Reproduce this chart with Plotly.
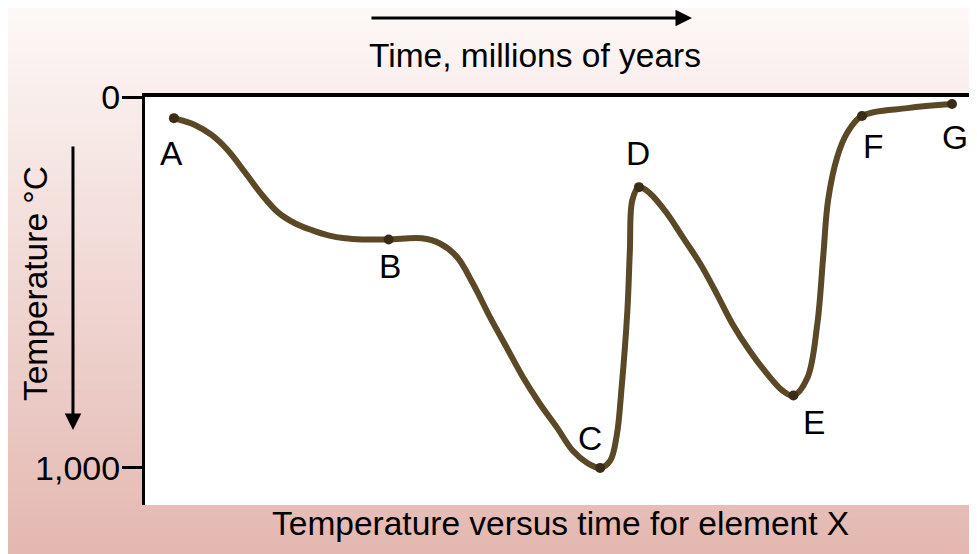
import plotly.graph_objects as go

# Curve (time in arbitrary units 0-100, temperature in °C, axis inverted)
curve_time = [3.5, 6.1, 8.1, 10.0, 12.1, 14.2, 16.1, 18.2, 20.2, 22.2, 24.2, 26.3, 29.5,
              33.5, 35.7, 37.8, 39.7, 41.8, 43.8, 45.8, 47.8, 49.9, 51.8, 53.5, 55.1,
              56.3, 57.1, 57.7, 58.4, 58.7, 59.0, 59.8,
              61.1, 63.2, 65.1, 67.2, 69.2, 71.1, 73.2, 75.3, 77.2, 78.5,
              80.2, 81.4, 82.1, 82.7, 83.8, 85.0, 86.8, 92.3, 97.7]
curve_temp = [57, 76, 103, 143, 203, 265, 311, 341, 359, 373, 381, 384, 384,
              381, 395, 432, 503, 595, 676, 757, 827, 892, 954, 986, 1000,
              981, 914, 784, 576, 414, 278, 243,
              259, 314, 378, 449, 530, 611, 684, 746, 792, 805,
              757, 611, 432, 278, 162, 97, 51, 30, 19]

point_labels = ["A", "B", "C", "D", "E", "F", "G"]
point_time = [3.5, 29.5, 55.1, 59.8, 78.5, 86.8, 97.7]
point_temp = [57, 384, 1000, 243, 805, 51, 19]

y_tick_vals = [0, 1000]
y_tick_text = ["0", "1,000"]

title_top = "Time, millions of years"
title_bottom = "Temperature versus time for element X"
title_left = "Temperature °C"

FONT = "Liberation Sans, Arial, Helvetica, sans-serif"
FS = 33.5

fig = go.Figure()
fig.add_trace(go.Scatter(
    x=curve_time, y=curve_temp, mode="lines",
    line=dict(color="#5a4826", width=6, shape="spline", smoothing=1.0),
    hoverinfo="skip", showlegend=False))
fig.add_trace(go.Scatter(
    x=point_time, y=point_temp, mode="markers",
    marker=dict(color="#3a2d17", size=10),
    showlegend=False))

# label offsets (pixels) relative to each point
label_shift = {"A": (-2, -35), "B": (1, -27), "C": (-10, 29), "D": (-1, 34),
               "E": (21, -27), "F": (11, -31), "G": (3, -33)}
annotations = []
for lab, t, v in zip(point_labels, point_time, point_temp):
    xs, ys = label_shift[lab]
    annotations.append(dict(x=t, y=v, xref="x", yref="y", text=lab, showarrow=False,
                            xshift=xs, yshift=ys, font=dict(size=FS, color="black", family=FONT)))

annotations += [
    dict(x=0.4722, y=1.1029, xref="paper", yref="paper", text=title_top, showarrow=False,
         xanchor="center", yanchor="middle", font=dict(size=FS, color="black", family=FONT)),
    dict(x=0.503, y=-0.046, xref="paper", yref="paper", text=title_bottom, showarrow=False,
         xanchor="center", yanchor="middle", font=dict(size=FS, color="black", family=FONT)),
    dict(x=-0.1332, y=0.544, xref="paper", yref="paper", text=title_left, showarrow=False,
         textangle=-90, xanchor="center", yanchor="middle",
         font=dict(size=FS, color="black", family=FONT)),
    # arrows
    dict(x=0.6622, y=1.1936, xref="paper", yref="paper", text="", showarrow=True,
         ax=-322, ay=0, arrowhead=2, arrowsize=1.1, arrowwidth=3, arrowcolor="black"),
    dict(x=-0.0872, y=0.1838, xref="paper", yref="paper", text="", showarrow=True,
         ax=0, ay=-285, arrowhead=2, arrowsize=1.1, arrowwidth=3, arrowcolor="black"),
]

# background gradient (white-ish top to pink bottom) drawn as thin stripes
shapes = []
n = 60
x0p, x1p = -0.1659, 1.0073
ytop, ybot = 1.228, -0.122
c_top = (253, 248, 247)
c_bot = (228, 184, 177)
for i in range(n):
    f = i / (n - 1)
    col = tuple(round(c_top[k] + (c_bot[k] - c_top[k]) * f) for k in range(3))
    y1 = ytop + (ybot - ytop) * i / n
    y0 = ytop + (ybot - ytop) * (i + 1) / n
    shapes.append(dict(type="rect", xref="paper", yref="paper", x0=x0p, x1=x1p,
                       y0=y0 - 0.002, y1=y1, fillcolor="rgb(%d,%d,%d)" % col,
                       line=dict(width=0), layer="below"))
shapes.append(dict(type="rect", xref="paper", yref="paper", x0=0, x1=1, y0=0, y1=1,
                   fillcolor="white", line=dict(width=0), layer="below"))

fig.update_layout(
    width=977, height=554,
    margin=dict(l=137, r=14, t=89, b=57),
    paper_bgcolor="white", plot_bgcolor="white",
    shapes=shapes, annotations=annotations,
    font=dict(family=FONT, size=FS, color="black"),
    xaxis=dict(range=[0, 100], side="top", showline=True, linewidth=4, linecolor="black",
               showgrid=False, zeroline=False, showticklabels=False, ticks=""),
    yaxis=dict(range=[1100, 0], showline=True, linewidth=3, linecolor="black",
               showgrid=False, zeroline=False, tickvals=y_tick_vals, ticktext=y_tick_text,
               ticks="outside", ticklen=20, tickwidth=3, tickcolor="black",
               ticklabelstandoff=-5,
               tickfont=dict(size=34, color="black", family=FONT)),
    showlegend=False,
)

fig.write_html("out.html")
